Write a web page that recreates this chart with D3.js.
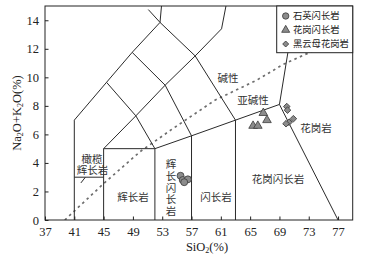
<!DOCTYPE html>
<html>
<head>
<meta charset="utf-8">
<script src="https://cdn.jsdelivr.net/npm/d3@7"></script>
<style>
  body { margin: 0; background: #fff; }
  svg text { font-family: "Liberation Serif", "Noto Sans CJK SC", serif; }
</style>
</head>
<body>
<div id="chart"></div>
<script>
// 軸刻度
const xTicks = [37, 41, 45, 49, 53, 57, 61, 65, 69, 73, 77];
const yTicks = [0, 2, 4, 6, 8, 10, 12, 14];

// 分類邊界線 (SiO2, Na2O+K2O)
const boundaries = [
  [[41, 0], [41, 7], [45.4, 9.65], [48.9, 11.75], [52.7, 13.85], [52.9, 15]],
  [[52.7, 13.85], [51.1, 14.75]],
  [[41, 3], [45, 3]],
  [[45, 0], [45, 5], [49.4, 7.3], [45.4, 9.65]],
  [[45, 5], [52, 5]],
  [[52, 0], [52, 5], [49.4, 7.3], [53.4, 9.45], [48.9, 11.75]],
  [[52, 5], [57, 5.9], [63, 7], [69, 8.1]],
  [[57, 0], [57, 5.9], [53.4, 9.45], [57.5, 11.5], [52.7, 13.85]],
  [[63, 0], [63, 7], [57.5, 11.5], [61.1, 13.4], [61.7, 15]],
  [[77, 0], [69, 8.1], [70.3, 12.2]]
];

// 碱性/亚碱性分界虚线
const alkaliLine = [[39.7, 0], [45, 2.55], [50, 4.8], [54.3, 6.35], [60.2, 8.4],
  [65.9, 9.8], [69.5, 10.9], [72.5, 11.6], [76, 12.4]];

// 样品
const quartzDiorite = [[55.5, 3.1], [55.8, 2.8], [56.5, 2.85], [56.0, 2.65]];
const granodiorite = [[65.4, 6.6], [66.05, 6.6], [66.8, 7.5], [67.3, 7.0]];
const biotiteGranite = [[70.0, 7.95], [70.1, 7.7], [70.9, 7.1], [70.3, 6.85], [69.9, 6.75]];

const legendNames = ["石英闪长岩", "花岗闪长岩", "黑云母花岗岩"];

const width = 382, height = 263;
const svg = d3.select("#chart").append("svg").attr("width", width).attr("height", height);

const x = d3.scaleLinear().domain([37, 79]).range([45, 352.7]);
const y = d3.scaleLinear().domain([0, 15]).range([220, 6]);

const clip = svg.append("clipPath").attr("id", "plot-clip")
  .append("rect").attr("x", 45).attr("y", 6).attr("width", 307.7).attr("height", 214);

const plot = svg.append("g").attr("clip-path", "url(#plot-clip)");
const line = d3.line().x((d) => x(d[0])).y((d) => y(d[1]));

// 虚线
plot.append("path")
  .attr("d", line(alkaliLine))
  .attr("fill", "none")
  .attr("stroke", "#6e6e6e")
  .attr("stroke-width", 1.7)
  .attr("stroke-dasharray", "2.5,3.5");

// 边界
plot.selectAll(".bd").data(boundaries).join("path")
  .attr("class", "bd")
  .attr("d", line)
  .attr("fill", "none")
  .attr("stroke", "#2a2a2a")
  .attr("stroke-width", 1);

// 橄榄辉长岩 小引线
plot.append("line")
  .attr("x1", x(41.9)).attr("y1", y(2.6))
  .attr("x2", x(42.5)).attr("y2", y(2.99))
  .attr("stroke", "#2a2a2a");

// 区域标注
const fieldLabels = [
  { t: "碱性", px: 228, py: 82, s: 10.5 },
  { t: "亚碱性", px: 253, py: 104, s: 10.5 },
  { t: "花岗岩", px: 316, py: 132, s: 10.5 },
  { t: "花岗闪长岩", px: 278, py: 183, s: 10.5 },
  { t: "闪长岩", px: 216, py: 201, s: 10.5 },
  { t: "辉长岩", px: 133, py: 201, s: 10.5 },
  { t: "橄榄", px: 92, py: 163, s: 10.5 },
  { t: "辉长岩", px: 92.5, py: 174, s: 10.5 }
];
svg.append("g").selectAll("text").data(fieldLabels).join("text")
  .attr("x", (d) => d.px).attr("y", (d) => d.py)
  .attr("text-anchor", "middle")
  .attr("font-size", (d) => d.s)
  .attr("fill", "#333")
  .text((d) => d.t);

// 竖排 辉长闪长岩
svg.append("g").selectAll("text").data("辉长闪长岩".split("")).join("text")
  .attr("x", 171)
  .attr("y", (d, i) => 168 + i * 11.8)
  .attr("text-anchor", "middle")
  .attr("font-size", 10.5)
  .attr("fill", "#333")
  .text((d) => d);

// 样品点
const markerFill = "#8c8c8c", markerStroke = "#3a3a3a";
function drawPoints(data, type, size, rot) {
  svg.append("g").selectAll("path").data(data).join("path")
    .attr("d", d3.symbol().type(type).size(size))
    .attr("transform", (d) => `translate(${x(d[0])},${y(d[1])}) rotate(${rot})`)
    .attr("fill", markerFill)
    .attr("stroke", markerStroke)
    .attr("stroke-width", 0.8);
}
drawPoints(quartzDiorite, d3.symbolCircle, 38, 0);
drawPoints(granodiorite, d3.symbolTriangle, 32, 0);
drawPoints(biotiteGranite, d3.symbolSquare, 22, 45);

// 坐标轴 (刻度朝内)
const xAxis = svg.append("g").attr("transform", "translate(0,220)")
  .call(d3.axisBottom(x).tickValues(xTicks).tickSizeInner(-3.5).tickSizeOuter(0).tickPadding(7));
const yAxis = svg.append("g").attr("transform", "translate(45,0)")
  .call(d3.axisLeft(y).tickValues(yTicks).tickSizeInner(-3.5).tickSizeOuter(0).tickPadding(6));
[xAxis, yAxis].forEach((a) => {
  a.select(".domain").remove();
  a.selectAll("line").attr("stroke", "#222");
  a.selectAll("text").attr("font-size", 12.5).attr("fill", "#222")
    .attr("font-family", "Liberation Serif");
});

// 外框
svg.append("rect")
  .attr("x", 45).attr("y", 6).attr("width", 307.7).attr("height", 214)
  .attr("fill", "none").attr("stroke", "#222").attr("stroke-width", 1);

// 图例
const lg = svg.append("g");
lg.append("rect")
  .attr("x", 276.7).attr("y", 6).attr("width", 76).attr("height", 46.7)
  .attr("fill", "#fff").attr("stroke", "#222").attr("stroke-width", 1);
const legendSyms = [
  { type: d3.symbolCircle, size: 32, rot: 0 },
  { type: d3.symbolTriangle, size: 28, rot: 0 },
  { type: d3.symbolSquare, size: 18, rot: 45 }
];
legendNames.forEach((name, i) => {
  const cy = 16 + i * 14;
  lg.append("path")
    .attr("d", d3.symbol().type(legendSyms[i].type).size(legendSyms[i].size))
    .attr("transform", `translate(285.7,${cy}) rotate(${legendSyms[i].rot})`)
    .attr("fill", markerFill).attr("stroke", markerStroke).attr("stroke-width", 0.8);
  lg.append("text")
    .attr("x", 293).attr("y", cy + 3.4)
    .attr("font-size", 9.3).attr("fill", "#222")
    .text(name);
});

// 轴标题
const xt = svg.append("text")
  .attr("x", 207).attr("y", 251)
  .attr("text-anchor", "middle").attr("font-size", 12.5).attr("fill", "#222");
xt.append("tspan").text("SiO");
xt.append("tspan").attr("font-size", 8).attr("dy", 2).text("2");
xt.append("tspan").attr("dy", -2).text("(%)");

const yt = svg.append("text")
  .attr("transform", "translate(21,113) rotate(-90)")
  .attr("text-anchor", "middle").attr("font-size", 12.5).attr("fill", "#222");
yt.append("tspan").text("Na");
yt.append("tspan").attr("font-size", 8).attr("dy", 2).text("2");
yt.append("tspan").attr("dy", -2).text("O+K");
yt.append("tspan").attr("font-size", 8).attr("dy", 2).text("2");
yt.append("tspan").attr("dy", -2).text("O(%)");
</script>
</body>
</html>
